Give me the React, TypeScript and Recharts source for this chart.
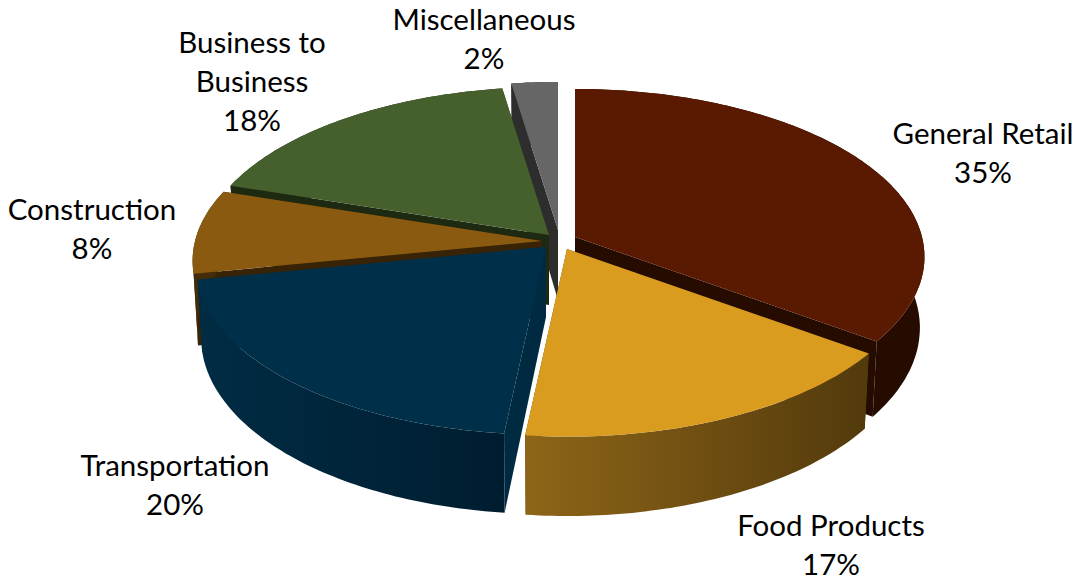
import React from 'react';
import { Pie, PieChart } from 'recharts';

// Listed back to front so the nearest slices paint last; the pie runs counter-clockwise from General Retail's far edge.
const categories = ['General Retail', 'Miscellaneous', 'Business to Business', 'Construction', 'Transportation', 'Food Products'];
// the labels show them rounded
const shares = [35, 2.4, 17.6, 8.1, 20.2, 16.7];

const data = categories.map((name, i) => ({ name, value: shares[i] }));

const WIDTH = 1076;
const HEIGHT = 585;
const CX = 556;
const CY = 240;
const RADIUS = 347;

// 3D look: tilt, perspective strength and side wall height
const TILT = 165.5 / 347;
const PERSPECTIVE = 0.118;
const DEPTH = 70;
const FLOOR_SHRINK = 0.987;

type Look = {
  top: string;
  face: string;
  wall: [string, string];
  explode: [number, number];
  label: [number, number];
};

const LOOK: Record<string, Look> = {
  'General Retail': { top: '#5a1a02', face: '#260b00', wall: ['#260b00', '#260b00'], explode: [19, -3], label: [983, 144] },
  Miscellaneous: { top: '#666666', face: '#2d2d2d', wall: ['#2d2d2d', '#2d2d2d'], explode: [2, -10], label: [484, 30] },
  'Business to Business': { top: '#46602d', face: '#1d2911', wall: ['#1d2911', '#1d2911'], explode: [-7, -5], label: [252, 53] },
  Construction: { top: '#8a5a11', face: '#382307', wall: ['#452c08', '#452c08'], explode: [-14, 1], label: [92, 220] },
  Transportation: { top: '#003049', face: '#002a41', wall: ['#002c44', '#001d30'], explode: [-10, 7], label: [175, 476] },
  'Food Products': { top: '#da9c1f', face: '#5a400d', wall: ['#8e6518', '#523a0c'], explode: [11, 9], label: [831, 536] },
};

// clockwise degrees from the far side of the pie -> screen offset from the slice's apex
function project(deg: number, r: number, onFloor: boolean): [number, number] {
  const rad = (deg * Math.PI) / 180;
  const across = Math.sin(rad);
  const toward = -Math.cos(rad);
  const scale = 1 / (1 - PERSPECTIVE * toward);
  const x = r * across * scale * (onFloor ? FLOOR_SHRINK : 1);
  const y = r * TILT * toward * scale + (onFloor ? DEPTH * scale : 0);
  return [x, y];
}

function arc(from: number, to: number, r: number, onFloor: boolean, ox: number, oy: number): string[] {
  const pts: string[] = [];
  const steps = Math.max(2, Math.ceil(Math.abs(to - from)));
  for (let i = 0; i <= steps; i++) {
    const [x, y] = project(from + ((to - from) * i) / steps, r, onFloor);
    pts.push(`${(ox + x).toFixed(1)},${(oy + y).toFixed(1)}`);
  }
  return pts;
}

function Slice3D(props: any) {
  const { cx, cy, outerRadius, startAngle, endAngle, name, index } = props;
  const look = LOOK[name];
  const ox = cx + look.explode[0];
  const oy = cy + look.explode[1];
  const a0 = 90 - Math.max(startAngle, endAngle);
  const a1 = 90 - Math.min(startAngle, endAngle);

  const apex = `${ox},${oy}`;
  const apexLow = `${ox},${oy + DEPTH}`;
  const top = arc(a0, a1, outerRadius, false, ox, oy);
  const low = arc(a0, a1, outerRadius, true, ox, oy);
  const gradId = `wall-${index}`;

  return (
    <g>
      <defs>
        <linearGradient id={gradId} x1="0" y1="0" x2="1" y2="0">
          <stop offset="0" stopColor={look.wall[0]} />
          <stop offset="1" stopColor={look.wall[1]} />
        </linearGradient>
      </defs>
      <polygon points={[apex, top[0], low[0], apexLow].join(' ')} fill={look.face} />
      <polygon points={[apex, top[top.length - 1], low[low.length - 1], apexLow].join(' ')} fill={look.face} />
      <polygon points={[...top, ...[...low].reverse()].join(' ')} fill={`url(#${gradId})`} />
      <polygon points={[apex, ...top].join(' ')} fill={look.top} />
    </g>
  );
}

function SliceLabel(props: any) {
  const { name, value } = props;
  const [x, y] = LOOK[name].label;
  const lines = [...name.replace(' to ', ' to\n').split('\n'), `${Math.round(value)}%`];
  return (
    <text x={x} y={y} textAnchor="middle" fontFamily="Lato, sans-serif" fontSize={29.5} fill="#000000">
      {lines.map((line: string, i: number) => (
        <tspan key={line} x={x} dy={i === 0 ? 0 : 39}>
          {line}
        </tspan>
      ))}
    </text>
  );
}

export default function App() {
  return (
    <div style={{ position: 'absolute', left: 0, top: 0, width: WIDTH, height: HEIGHT, background: '#ffffff' }}>
      <PieChart width={WIDTH} height={HEIGHT} margin={{ top: 0, right: 0, bottom: 0, left: 0 }}>
        <Pie
          data={data}
          dataKey="value"
          nameKey="name"
          cx={CX}
          cy={CY}
          innerRadius={0}
          outerRadius={RADIUS}
          startAngle={-36}
          endAngle={324}
          paddingAngle={0}
          stroke="none"
          shape={Slice3D}
          label={SliceLabel}
          labelLine={false}
          isAnimationActive={false}
        />
      </PieChart>
    </div>
  );
}
